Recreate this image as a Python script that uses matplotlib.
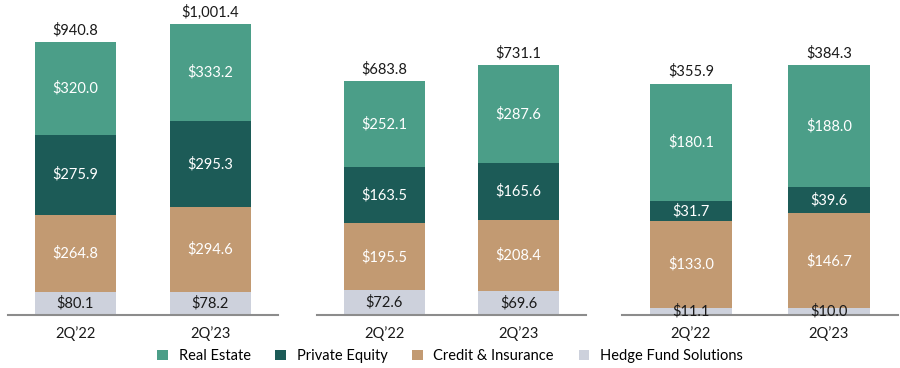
import numpy as np
import matplotlib.pyplot as plt
from matplotlib.patches import Patch

plt.rcParams['font.family'] = ['Lato', 'DejaVu Sans']

# Datos (US$ miles de millones)
periods = ['2Q\u201922', '2Q\u201923']
series = ['Real Estate', 'Private Equity', 'Credit & Insurance', 'Hedge Fund Solutions']

# panel 1
p1_hedge = [80.1, 78.2]
p1_credit = [264.8, 294.6]
p1_pe = [275.9, 295.3]
p1_re = [320.0, 333.2]
p1_total = [940.8, 1001.4]

# panel 2
p2_hedge = [72.6, 69.6]
p2_credit = [195.5, 208.4]
p2_pe = [163.5, 165.6]
p2_re = [252.1, 287.6]
p2_total = [683.8, 731.1]

# panel 3
p3_hedge = [11.1, 10.0]
p3_credit = [133.0, 146.7]
p3_pe = [31.7, 39.6]
p3_re = [180.1, 188.0]
p3_total = [355.9, 384.3]

colors = {'Real Estate': '#4b9e88', 'Private Equity': '#1c5b57',
          'Credit & Insurance': '#c29a72', 'Hedge Fund Solutions': '#cdd1dc'}
text_colors = {'Real Estate': 'white', 'Private Equity': 'white',
               'Credit & Insurance': 'white', 'Hedge Fund Solutions': '#1a1a1a'}

panels = [
    (p1_hedge, p1_credit, p1_pe, p1_re, p1_total, [8, 278], 1050),
    (p2_hedge, p2_credit, p2_pe, p2_re, p2_total, [317, 586], 892),
    (p3_hedge, p3_credit, p3_pe, p3_re, p3_total, [622, 898], 469),
]

fig = plt.figure(figsize=(9, 3.68), dpi=100)
W, H = 900, 368
y0, y1 = 315, 10
fs = 10.5

for hedge, credit, pe, re, total, (xa, xb), ymax in panels:
    ax = fig.add_axes([xa / W, (H - y0) / H, (xb - xa) / W, (y0 - y1) / H])
    x = np.arange(len(periods))
    bottom = np.zeros(len(periods))
    for name, vals in zip(['Hedge Fund Solutions', 'Credit & Insurance', 'Private Equity', 'Real Estate'],
                          [hedge, credit, pe, re]):
        vals = np.array(vals)
        ax.bar(x, vals, 0.6, bottom=bottom, color=colors[name], edgecolor='none')
        for xi, b, v in zip(x, bottom, vals):
            ax.text(xi, b + v / 2, f'${v:,.1f}', ha='center', va='center',
                    fontsize=fs, color=text_colors[name])
        bottom += vals
    for xi, t in zip(x, total):
        ax.text(xi, t + ymax * 0.015, f'${t:,.1f}', ha='center', va='bottom',
                fontsize=fs, color='#1a1a1a')
    ax.set_xlim(-0.5, 1.5)
    ax.set_ylim(0, ymax)
    ax.set_xticks(x)
    ax.set_xticklabels(periods, fontsize=fs, color='#1a1a1a')
    ax.tick_params(axis='x', length=0, pad=8)
    ax.set_yticks([])
    for s in ['top', 'left', 'right']:
        ax.spines[s].set_visible(False)
    ax.spines['bottom'].set_color('#8c8c8c')
    ax.spines['bottom'].set_linewidth(1.5)

handles = [Patch(facecolor=colors[s], label=s) for s in series]
fig.legend(handles=handles, loc='center', bbox_to_anchor=(0.5, 1 - 356 / H), ncol=4,
           frameon=False, fontsize=fs, handlelength=0.75, handleheight=0.75,
           columnspacing=1.7, handletextpad=0.7)

fig.savefig('out.png', dpi=100)
